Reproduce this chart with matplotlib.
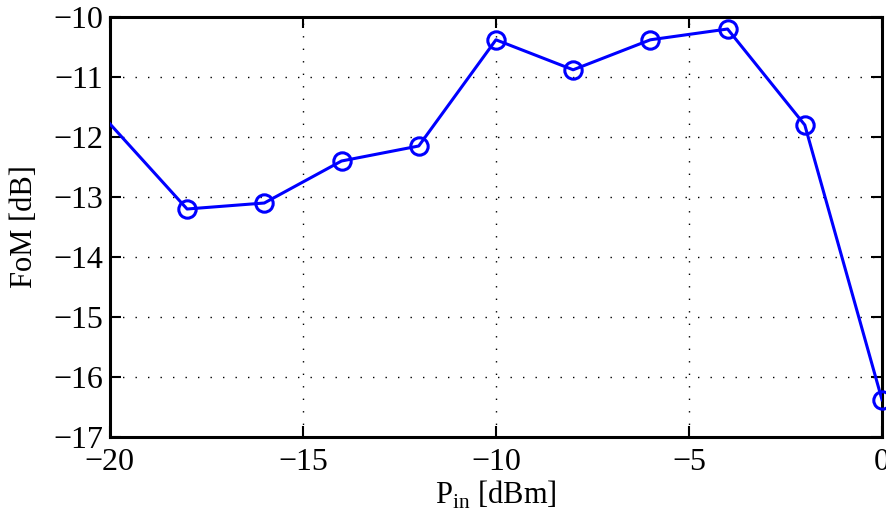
import matplotlib
matplotlib.use("Agg")
import matplotlib.pyplot as plt

# input power [dBm] and figure of merit [dB]; first point lies left of the axis
p_in = [-22, -18, -16, -14, -12, -10, -8, -6, -4, -2, 0]
fom = [-10.36, -13.2, -13.1, -12.4, -12.15, -10.38, -10.88, -10.38, -10.2, -11.8, -16.38]

x_ticks = [-20, -15, -10, -5, 0]
y_ticks = [-17, -16, -15, -14, -13, -12, -11, -10]

plt.rcParams["font.family"] = ["Liberation Serif", "DejaVu Serif"]
plt.rcParams["mathtext.fontset"] = "custom"
plt.rcParams["mathtext.rm"] = "Liberation Serif"
plt.rcParams["axes.unicode_minus"] = True

fig = plt.figure(figsize=(8.86, 5.23), dpi=100)
ax = fig.add_axes([0.124, 0.1644, 0.8715, 0.8031])

ax.plot(p_in, fom, color="#0000ff", lw=2.2, zorder=3)
inside = [(x, y) for x, y in zip(p_in, fom) if -20 <= x <= 0]
ax.plot([p[0] for p in inside], [p[1] for p in inside], "o", ms=12.5,
        mfc="none", mec="#0000ff", mew=2.2, clip_on=False, zorder=4)

ax.set_xlim(-20, 0)
ax.set_ylim(-17, -10)
ax.set_xticks(x_ticks)
ax.set_yticks(y_ticks)
ax.grid(True, color="black", linestyle=(0, (1, 8)), lw=1.0)

ax.tick_params(direction="in", length=8, width=1.5, labelsize=23,
               top=True, right=True, pad=8)
ax.tick_params(axis="y", pad=5)
for s in ax.spines.values():
    s.set_linewidth(2.2)

ax.set_xlabel(r"P$_{\mathregular{in}}$ [dBm]", fontsize=22, labelpad=1)
ax.set_ylabel("FoM [dB]", fontsize=22, labelpad=10)

fig.savefig("out.png", dpi=100)
